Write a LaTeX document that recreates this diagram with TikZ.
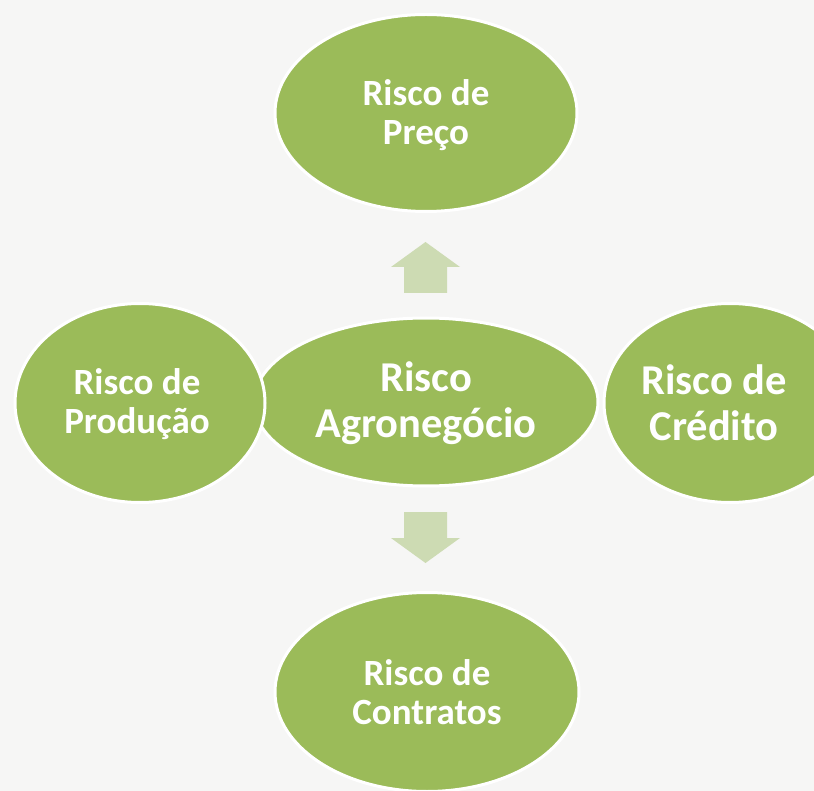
\documentclass[tikz,border=0pt]{standalone}
\usepackage{fontspec}
\setmainfont{Carlito}
\usetikzlibrary{shapes.geometric}
\definecolor{leaf}{HTML}{9BBB59}
\definecolor{paleleaf}{HTML}{CDDBB3}
\definecolor{paper}{HTML}{F6F6F5}
\begin{document}
\begin{tikzpicture}[x=1pt,y=-1pt,
  blob/.style={ellipse, draw=white, line width=3pt, fill=leaf, inner sep=0pt},
  txtbig/.style={text=white, font=\bfseries\fontsize{42.5}{46}\selectfont, align=center, inner sep=0pt},
  txtmid/.style={text=white, font=\bfseries\fontsize{37}{39.5}\selectfont, align=center, inner sep=0pt},
  blockarrow/.style={fill=paleleaf, draw=none}]
\fill[paper] (0,0) rectangle (814,791);
\useasboundingbox (0,0) rectangle (814,791);
\begin{scope}
\clip (0,0) rectangle (814,791);
% centre
\node[blob, minimum width=344pt, minimum height=168pt] (agro) at (426,402) {};
\node[txtbig] (agrotxt) at (426,403) {Risco\\Agronegócio};
% left
\node[blob, minimum width=250pt, minimum height=199pt] (prod) at (140,403) {};
\node[txtmid] (prodtxt) at (137,404) {Risco de\\Produção};
% right
\node[blob, minimum width=252pt, minimum height=199pt] (cred) at (730,403) {};
\node[txtbig] (credtxt) at (714,403) {Risco de\\Crédito};
% top
\node[blob, minimum width=302pt, minimum height=197pt] (preco) at (426,113) {};
\node[txtmid] (precotxt) at (426,115) {Risco de\\Preço};
% bottom
\node[blob, minimum width=304pt, minimum height=199pt] (contr) at (427,692) {};
\node[txtmid] (contrtxt) at (427,692) {Risco de\\Contratos};
\end{scope}
% block arrows
\coordinate (upbase) at (425.5,293);
\coordinate (uptip) at (425.5,242);
\fill[blockarrow] (uptip) -- (460,267) -- (447,267) -- (447,293) -- (404,293) -- (404,267) -- (391,267) -- cycle;
\coordinate (dntop) at (425.5,512);
\coordinate (dntip) at (425.5,563);
\fill[blockarrow] (dntip) -- (460,538) -- (447,538) -- (447,512) -- (404,512) -- (404,538) -- (391,538) -- cycle;
\end{tikzpicture}
\end{document}
